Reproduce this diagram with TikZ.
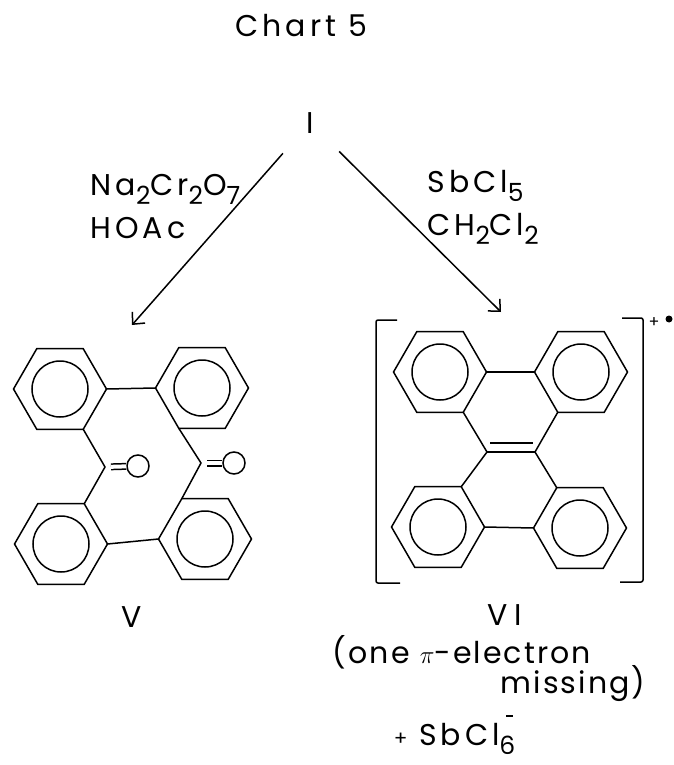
\documentclass[tikz,border=0pt]{standalone}
\usepackage{fontspec}
\setmainfont{Poppins}[LetterSpace=13]
\usetikzlibrary{shapes.geometric,arrows.meta,positioning}
\newcommand{\sbs}[1]{\raisebox{-9pt}{\fontsize{25}{25}\selectfont #1}}

\begin{document}
\begin{tikzpicture}[x=1pt,y=-1pt,line width=1.5pt,
    >={Straight Barb[length=9pt,width=17pt]},
    txt/.style={font=\fontsize{30}{31}\selectfont,inner sep=0pt},
    note/.style={txt,font=\fontsize{30}{31}\selectfont\addfontfeatures{LetterSpace=7}},
    ring/.style={regular polygon,regular polygon sides=6,draw,
        minimum size=93pt,inner sep=0pt,outer sep=0pt},
    oxy/.style={circle,draw,minimum size=22pt,inner sep=0pt},
    dbond/.style={double,double distance=4pt,shorten <=6pt}]

    \useasboundingbox (0,0) rectangle (674,765);

    % Texts
    \node[txt,anchor=base west] (title) at (235,37) {Chart 5};
    \node[txt,anchor=base] (cpdI) at (310,133) {I};
    \node[txt,anchor=base east] (nacr) at (241,195) {Na\sbs{2}Cr\sbs{2}O\sbs{7}};
    \node[txt,anchor=base west] (hoac) at ([yshift=-43pt]nacr.base west) {HOAc};
    \node[txt,anchor=base west] (sbcl) at (427,192) {SbCl\sbs{5}};
    \node[txt,anchor=base west] (chcl) at ([yshift=-43pt]sbcl.base west) {CH\sbs{2}Cl\sbs{2}};

    % Arrows
    \coordinate (tipV) at (132,325);
    \coordinate (tipVI) at (501,312);
    \draw[->,shorten <=41pt] (cpdI.center) -- (tipV);
    \draw[->,shorten <=41pt] (cpdI.center) -- (tipVI);

    % Compound V
    \node[ring] (v1) at (60,389) {};
    \node[ring] (v2) at (202,388) {};
    \node[ring] (v3) at (61,544) {};
    \node[ring] (v4) at (205,539) {};
    \coordinate (c1) at (105,467);
    \coordinate (c2) at (201,463);
    \node[oxy] (o1) at (138,466) {};
    \node[oxy] (o2) at (234,463) {};
    \draw (v1.0) -- (v2.180) (v3.0) -- (v4.180);
    \draw (v1.300) -- (c1) -- (v3.60);
    \draw (v2.240) -- (c2) -- (v4.120);
    \draw[dbond] (c1) -- (o1);
    \draw[dbond] (c2) -- (o2);
    \node[txt,anchor=base] (lblV) at (132,627) {V};

    % Compound VI
    \node[ring] (w1) at (440,372) {};
    \node[ring] (w2) at (581,372) {};
    \node[ring] (w3) at (438,527) {};
    \node[ring] (w4) at (580,528) {};
    \coordinate (c3) at (487,452);
    \coordinate (c4) at (535,452);
    \draw[line width=2.6pt] (w1.0) -- (w2.180);
    \draw (w3.0) -- (w4.180);
    \draw (w1.300) -- (c3) -- (w3.60);
    \draw (w2.240) -- (c4) -- (w4.120);
    \draw (c3) -- (c4);
    \draw[shorten <=3pt,shorten >=2pt] ([yshift=9pt]c3) -- ([yshift=9pt]c4);

    \foreach \r in {v1,v2,v3,v4,w1,w2,w3,w4}
        \draw (\r.center) circle (28pt);

    % Brackets and charge
    \draw[rounded corners=2pt] (397,320) -- (376,320) -- (376,583) -- (400,583);
    \draw[rounded corners=2pt] (622,318) -- (643,318) -- (643,582) -- (620,582);
    \node[inner sep=0pt,font=\fontsize{16}{16}\selectfont] (plus) at (654,323) {+};
    \node[circle,fill,minimum size=7pt,inner sep=0pt] (rad) at (669,319) {};

    \node[txt,anchor=base west] (lblVI) at (487,625) {V\hspace{6pt}I};
    \node[note,anchor=base west] (note1) at (332,663) {(one $\pi$-electron};
    \node[note,anchor=base west] (note2) at (500,693) {missing)};
    \node[txt,anchor=base west] (anion) at (393,745)
        {{\fontsize{20}{20}\selectfont +} SbCl\sbs{6}\makebox[0pt][r]{\rule[28pt]{7pt}{1.8pt}\hspace{2pt}}};

\end{tikzpicture}
\end{document}
